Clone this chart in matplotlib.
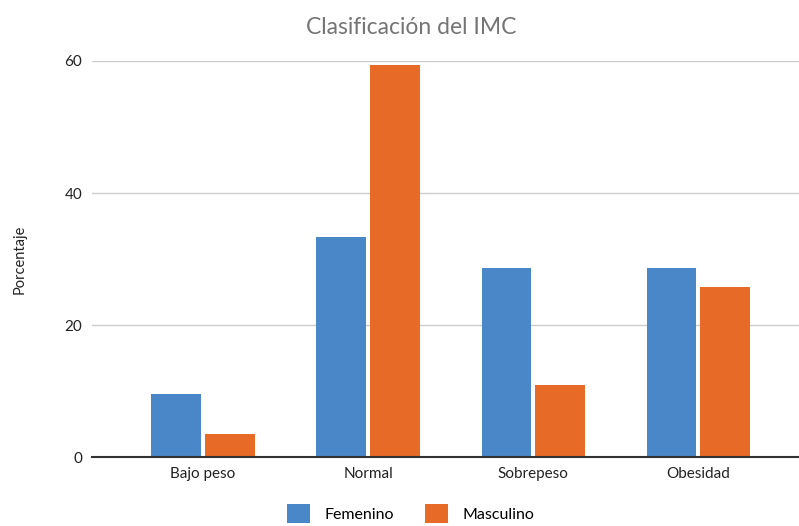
import matplotlib
matplotlib.use("Agg")
import matplotlib.pyplot as plt
import numpy as np
from matplotlib.patches import Patch

categories = ["Bajo peso", "Normal", "Sobrepeso", "Obesidad"]
femenino = [9.6, 33.3, 28.6, 28.6]
masculino = [3.5, 59.4, 11.0, 25.8]
series_names = ["Femenino", "Masculino"]
yticks = [0, 20, 40, 60]

blue = "#4a87c9"
orange = "#e86a27"

plt.rcParams["font.family"] = ["Lato", "DejaVu Sans"]

fig = plt.figure(figsize=(7.99, 5.26), dpi=100)
ax = fig.add_axes([0.115, 0.1306, 0.885, 0.7535])

x = np.arange(len(categories))
w = 0.30
ax.bar(x - 0.163, femenino, width=w, color=blue, zorder=3)
ax.bar(x + 0.163, masculino, width=w, color=orange, zorder=3)

ax.set_xlim(-0.673, 3.61)
ax.set_ylim(0, 60)
ax.set_yticks(yticks)
ax.set_yticklabels([str(v) for v in yticks], fontsize=11, color="#222222")
ax.set_xticks(x)
ax.set_xticklabels(categories, fontsize=11, color="#222222")
ax.tick_params(axis="both", length=0)
ax.tick_params(axis="y", pad=7)
ax.tick_params(axis="x", pad=7)

for s in ["top", "right", "left"]:
    ax.spines[s].set_visible(False)
ax.spines["bottom"].set_color("#333333")
ax.spines["bottom"].set_linewidth(1.5)
ax.spines["bottom"].set_zorder(4)

ax.yaxis.grid(True, color="#cccccc", linewidth=1.0, zorder=0)
ax.set_axisbelow(True)

ax.set_ylabel("Porcentaje", fontsize=10.5, color="#222222", labelpad=27)

fig.text(0.515, 0.947, "Clasificación del IMC", ha="center", va="center",
         fontsize=16.5, color="#757575")

handles = [Patch(facecolor=blue), Patch(facecolor=orange)]
fig.legend(handles, series_names, loc="center", bbox_to_anchor=(0.514, 0.024),
           ncol=2, frameon=False, fontsize=11.5, handlelength=1.45,
           handleheight=1.45, columnspacing=1.9, handletextpad=0.94)

fig.savefig("out.png", dpi=100)
